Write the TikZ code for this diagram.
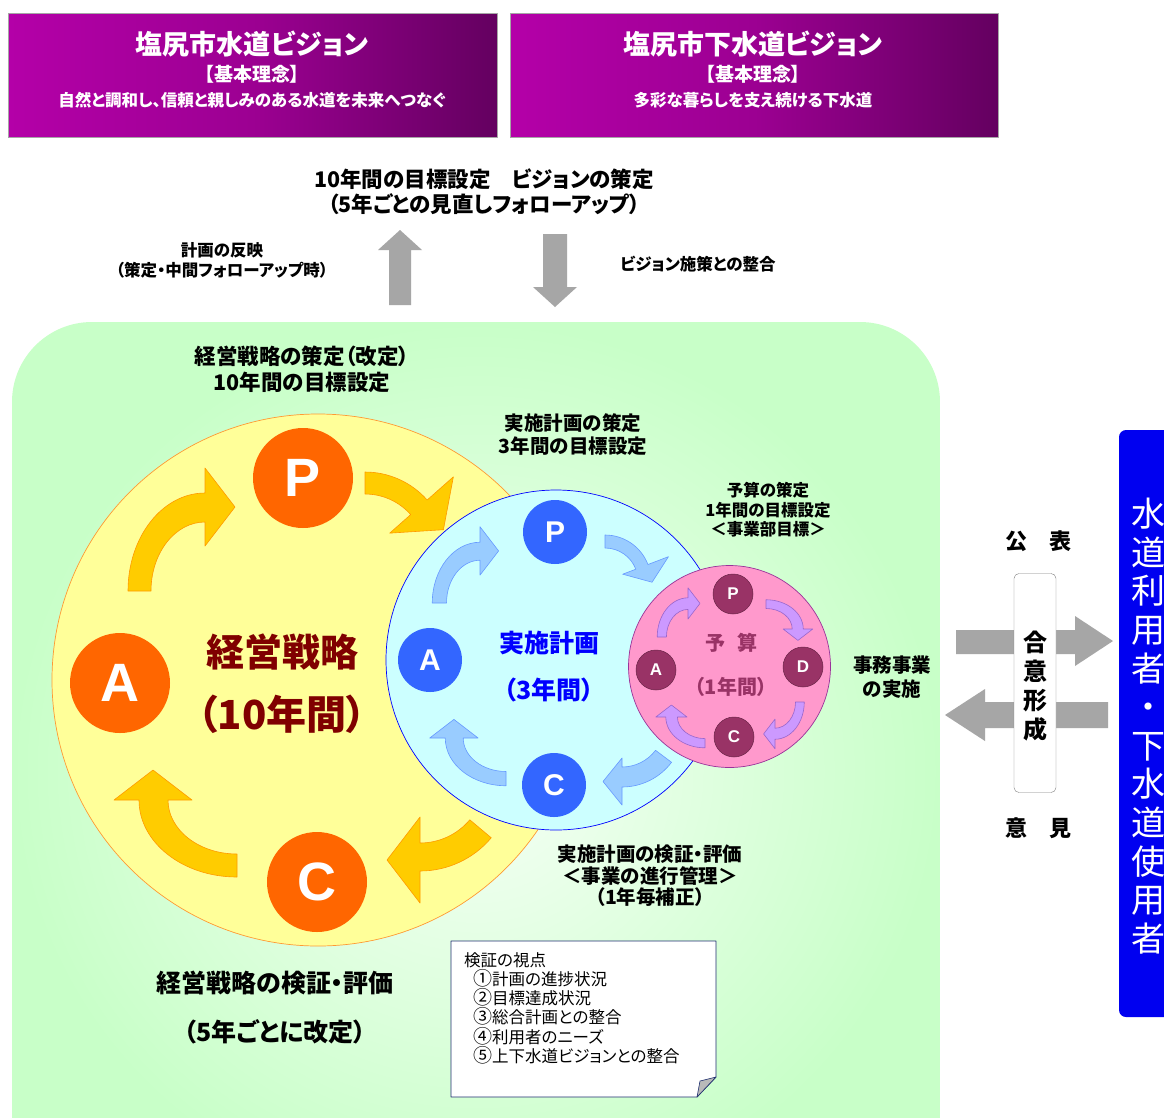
\documentclass[tikz,border=0pt]{standalone}
\usepackage{fontspec}
\setmainfont{Noto Sans CJK JP}[RawFeature=+palt]
\newfontfamily\cjkfull{Noto Sans CJK JP}
\newfontfamily\latf{Liberation Sans}
\newcommand\fsz[2]{\fontsize{#1}{#2}\selectfont}
\newcommand\circnum[1]{{\cjkfull\fsz{19}{19.3}#1}}
\definecolor{vl}{HTML}{B400A8}
\definecolor{vm}{HTML}{9C0092}
\definecolor{vr}{HTML}{640060}
\definecolor{gin}{HTML}{F6FFF6}
\definecolor{gout}{HTML}{C8FFC8}
\definecolor{yfill}{HTML}{FFFF99}
\definecolor{yline}{HTML}{FF9933}
\definecolor{odotc}{HTML}{FF6600}
\definecolor{yarf}{HTML}{FFCC00}
\definecolor{yarl}{HTML}{FF9900}
\definecolor{bfill}{HTML}{CCFFFF}
\definecolor{bline}{HTML}{0000FF}
\definecolor{bdotc}{HTML}{3366FF}
\definecolor{barf}{HTML}{99CCFF}
\definecolor{barl}{HTML}{6699FF}
\definecolor{pfill}{HTML}{FF99CC}
\definecolor{pline}{HTML}{993399}
\definecolor{pdotc}{HTML}{993366}
\definecolor{parf}{HTML}{CC99FF}
\definecolor{parl}{HTML}{9966CC}
\definecolor{ptext}{HTML}{993366}
\definecolor{garr}{HTML}{A6A6A6}
\definecolor{ubox}{HTML}{0000F0}
\definecolor{navy}{HTML}{1F2F6F}
\definecolor{maroonc}{HTML}{800000}
% canonical quarter arrow: tail at west going up, head at north pointing east
\newcommand\cyc[2]{\begin{scope}[shift={#2},#1]
\filldraw (-77,0) arc[start angle=180,end angle=270,x radius=77,y radius=98] -- (0,-123) -- (30,-84) -- (0,-45) -- (0,-69) arc[start angle=270,end angle=180,x radius=54,y radius=69] -- cycle;
\end{scope}}
% partial circular arrow: #1 style, #2 centre, #3 start angle, #4 end angle, #5 r in, #6 r out, #7 head in, #8 head out, #9 head length
\newcommand\cycarrow[9]{\begin{scope}[shift={#2},rotate={-(#4)},#1]
\filldraw ({#3-(#4)}:#6) arc[start angle={#3-(#4)},end angle=0,radius=#6] -- (#8,0) -- ({(#7+#8)/2},#9) -- (#7,0) -- (#5,0) arc[start angle=0,end angle={#3-(#4)},radius=#5] -- cycle;
\end{scope}}
\begin{document}
\begin{tikzpicture}[x=1pt,y=-1pt,line join=round,
  yarr/.style={fill=yarf,draw=yarl,line width=0.6pt},
  barr/.style={fill=barf,draw=barl,line width=0.6pt},
  parr/.style={fill=parf,draw=parl,line width=0.6pt},
  odot/.style={circle,fill=odotc,minimum size=100,inner sep=0pt,text=white,font=\latf\bfseries\fsz{54}{54}},
  bdot/.style={circle,fill=bdotc,minimum size=64,inner sep=0pt,text=white,font=\latf\bfseries\fsz{30}{30}},
  pdot/.style={circle,fill=pdotc,draw=pdotc!70!black,line width=0.5pt,minimum size=40,inner sep=0pt,text=white,font=\latf\bfseries\fsz{17}{17}},
  lab/.style={align=center,inner sep=0pt,text=black,font=\bfseries\fsz{19.5}{23}},
  ttl/.style={inner sep=0pt,text=white},
  garrow/.style={fill=garr}]
\useasboundingbox (0,0) rectangle (1164,1117);
\fill[white] (0,0) rectangle (1164,1117);
% top vision boxes
\shadedraw[draw=gray!70,left color=vl,right color=vr,middle color=vm] (8,13) rectangle (497,137);
\shadedraw[draw=gray!70,left color=vl,right color=vr,middle color=vm] (510,13) rectangle (998,137);
\node[ttl,font=\bfseries\fsz{27}{27}] (t1a) at (252,44) {塩尻市水道ビジョン};
\node[ttl,font=\bfseries\fsz{19}{19}] (t1b) at (252,74) {【基本理念】};
\node[ttl,font=\bfseries\fsz{16.5}{16.5}] (t1c) at (252,100) {自然と調和し、信頼と親しみのある水道を未来へつなぐ};
\node[ttl,font=\bfseries\fsz{27}{27}] (t2a) at (753,44) {塩尻市下水道ビジョン};
\node[ttl,font=\bfseries\fsz{19}{19}] (t2b) at (753,74) {【基本理念】};
\node[ttl,font=\bfseries\fsz{16.5}{16.5}] (t2c) at (753,100) {多彩な暮らしを支え続ける下水道};
% top text and arrows
\node[lab,font=\bfseries\fsz{21.5}{25}] (vis) at (484,192) {10年間の目標設定　ビジョンの策定\\（5年ごとの見直しフォローアップ）};
\fill[garrow] (389,305) -- (389,250) -- (378,250) -- (400,230) -- (422,250) -- (411,250) -- (411,305) -- cycle;
\fill[garrow] (543,234) -- (567,234) -- (567,287) -- (577,287) -- (555,307) -- (533,287) -- (543,287) -- cycle;
\node[lab,font=\bfseries\fsz{16.5}{20}] (refl) at (222,260) {計画の反映\\（策定・中間フォローアップ時）};
\node[lab,font=\bfseries\fsz{16.5}{20}] (seig) at (698,264) {ビジョン施策との整合};
% green area
\shade[inner color=gin,outer color=gout,rounded corners=80] (12,322) rectangle (940,1220);
% big circle
\draw[fill=yfill,draw=yline,line width=0.7pt] (318,680) circle[radius=266];
\cyc{yarr}{(205,591)}
\cyc{yarr,rotate=90}{(237,800)}
\cycarrow{yarr}{(365,555)}{-90}{-41.5}{61}{83}{33}{118}{33}
\cycarrow{yarr}{(420,778)}{40}{90}{65}{93}{39}{125}{33}
\node[odot] (bP) at (303,478) {P};
\node[odot] (bA) at (120,683) {A};
\node[odot] (bC) at (317,882) {C};
\node[align=center,inner sep=0pt,text=maroonc,font=\bfseries\fsz{38}{38}] (keiei) at (282,652) {経営戦略};
\node[align=center,inner sep=0pt,text=maroonc,font=\bfseries\fsz{40}{40}] (keiei10) at (282,714) {（10年間）};
% middle circle
\draw[fill=bfill,draw=bline,line width=0.7pt] (556,660) circle[radius=170];
\cyc{barr,scale=0.62}{(480,603)}
\cyc{barr,scale=0.62,rotate=90}{(506,738)}
\cycarrow{barr}{(605,581)}{-90}{-21}{33}{46}{19}{68}{18}
\cycarrow{barr}{(622,725)}{37}{90}{42}{62}{33}{80}{19}
\node[bdot] (mP) at (555,532) {P};
\node[bdot] (mA) at (430,660) {A};
\node[bdot] (mC) at (554,785) {C};
\node[inner sep=0pt,text=bline,font=\bfseries\fsz{25}{25}] (jisshi) at (549,643) {実施計画};
\node[inner sep=0pt,text=bline,font=\bfseries\fsz{25}{25}] (jisshi3) at (549,690) {（3年間）};
% small circle
\draw[fill=pfill,draw=pline,line width=0.7pt] (729.5,666.5) circle[radius=101];
\cyc{parr,scale=0.4}{(688,637)}
\cyc{parr,scale=0.38,rotate=-90}{(766,629)}
\cyc{parr,scale=0.38,rotate=180}{(775,702)}
\cyc{parr,scale=0.4,rotate=90}{(705,717)}
\node[pdot] (sP) at (733,594) {P};
\node[pdot] (sD) at (803,667) {D};
\node[pdot] (sC) at (734,737) {C};
\node[pdot] (sA) at (656,670) {A};
\node[inner sep=0pt,text=ptext,font=\bfseries\fsz{20}{20}] (yosan) at (731,643) {予\hspace{0.6em}算};
\node[inner sep=0pt,text=ptext,font=\bfseries\fsz{20}{20}] (yosan1) at (731,687) {（1年間）};
% labels
\node[lab,font=\bfseries\fsz{21.5}{26}] (l1) at (302,369) {経営戦略の策定（改定）\\10年間の目標設定};
\node[lab,font=\bfseries\fsz{19.5}{23}] (l2) at (573,435) {実施計画の策定\\3年間の目標設定};
\node[lab,font=\bfseries\fsz{16.5}{19.5}] (l3) at (768,510) {予算の策定\\1年間の目標設定\\＜事業部目標＞};
\node[lab,font=\bfseries\fsz{19.5}{24}] (l4) at (892,677) {事務事業\\の実施};
\node[lab,font=\bfseries\fsz{19.5}{21.5}] (l5) at (650,876) {実施計画の検証・評価\\＜事業の進行管理＞\\（1年毎補正）};
\node[lab,font=\bfseries\fsz{25}{25}] (l6) at (275,983) {経営戦略の検証・評価};
\node[lab,font=\bfseries\fsz{25}{25}] (l7) at (275,1032) {（5年ごとに改定）};
% note box
\draw[draw=navy,fill=white,line width=0.8pt] (451,941) -- (716,941) -- (716,1077) -- (697,1097) -- (451,1097) -- cycle;
\filldraw[fill=gray!55,draw=navy,line width=0.6pt] (716,1077) -- (697,1097) -- (700,1081) -- cycle;
\node[anchor=north west,align=left,inner sep=0pt,font=\fsz{16.5}{19.3}] (note) at (464,952) {検証の視点\\\hspace*{9pt}\circnum{①}計画の進捗状況\\\hspace*{9pt}\circnum{②}目標達成状況\\\hspace*{9pt}\circnum{③}総合計画との整合\\\hspace*{9pt}\circnum{④}利用者のニーズ\\\hspace*{9pt}\circnum{⑤}上下水道ビジョンとの整合};
% right side
\fill[garrow] (956,630) -- (1075,630) -- (1075,616) -- (1113,641) -- (1075,666) -- (1075,654) -- (956,654) -- cycle;
\fill[garrow] (1108,702) -- (985,702) -- (985,689) -- (945,715) -- (985,741) -- (985,728) -- (1108,728) -- cycle;
\node[draw=gray,fill=white,rounded corners=5,minimum width=42,minimum height=219,inner sep=0pt] (gbox) at (1035,683) {};
\node[align=center,inner sep=0pt,font=\bfseries\fsz{24}{29}] (goi) at (1035,686) {合\\意\\形\\成};
\node[lab,font=\bfseries\fsz{22}{22}] (kohyo) at (1038,541) {公　表};
\node[lab,font=\bfseries\fsz{22}{22}] (iken) at (1038,828) {意　見};
\fill[ubox,rounded corners=7] (1119,430) rectangle (1185,1017);
\node[align=center,inner sep=0pt,text=white,font=\fsz{34}{38.6}] (users) at (1148,726) {水\\道\\利\\用\\者\\・\\下\\水\\道\\使\\用\\者};
\end{tikzpicture}
\end{document}
